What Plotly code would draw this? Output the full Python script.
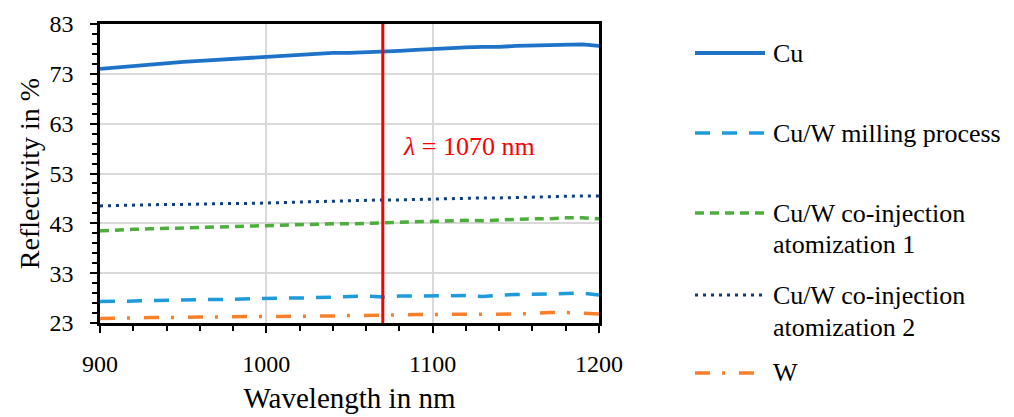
import plotly.graph_objects as go

wavelength = [900, 910, 920, 930, 940, 950, 960, 970, 980, 990, 1000,
              1010, 1020, 1030, 1040, 1050, 1060, 1070, 1080, 1090, 1100,
              1110, 1120, 1130, 1140, 1150, 1160, 1170, 1180, 1190, 1200]

cu = [74.0, 74.3, 74.6, 74.8, 75.1, 75.4, 75.6, 75.8, 76.0, 76.2, 76.4,
      76.6, 76.8, 77.0, 77.2, 77.2, 77.3, 77.4, 77.6, 77.8, 78.0,
      78.1, 78.3, 78.4, 78.4, 78.6, 78.7, 78.8, 78.9, 78.9, 78.6]

cuw_milling = [27.3, 27.3, 27.4, 27.5, 27.6, 27.6, 27.7, 27.7, 27.8, 27.8, 27.9,
               28.0, 28.0, 28.1, 28.1, 28.2, 28.4, 28.2, 28.4, 28.4, 28.4,
               28.5, 28.5, 28.3, 28.6, 28.7, 28.8, 28.9, 29.0, 29.0, 28.6]

cuw_coinj1 = [41.5, 41.7, 41.8, 41.9, 42.0, 42.1, 42.2, 42.3, 42.4, 42.4, 42.5,
              42.6, 42.7, 42.8, 42.9, 42.9, 43.0, 43.2, 43.3, 43.4, 43.5,
              43.5, 43.6, 43.5, 43.7, 43.8, 43.9, 43.9, 44.1, 44.1, 43.9]

cuw_coinj2 = [46.5, 46.6, 46.7, 46.7, 46.8, 46.8, 46.9, 46.9, 47.0, 47.0, 47.1,
              47.2, 47.3, 47.3, 47.4, 47.5, 47.6, 47.7, 47.7, 47.8, 47.9,
              47.9, 48.0, 48.1, 48.1, 48.2, 48.3, 48.4, 48.4, 48.5, 48.5]

w = [23.9, 24.0, 24.0, 24.1, 24.1, 24.2, 24.2, 24.2, 24.3, 24.3, 24.3,
     24.3, 24.3, 24.4, 24.4, 24.5, 24.5, 24.6, 24.6, 24.7, 24.7,
     24.7, 24.7, 24.7, 24.7, 24.8, 24.9, 25.1, 25.1, 25.0, 24.8]

series_names = ["Cu", "Cu/W milling process", "Cu/W co-injection\natomization 1",
                "Cu/W co-injection\natomization 2", "W"]
series_values = [cu, cuw_milling, cuw_coinj1, cuw_coinj2, w]
colors = ["#1E73C8", "#1F9BDC", "#4DAE3C", "#0B3F75", "#F8802B"]
dashes = ["solid", "15px,12px", "9px,6px", "3px,5px", "15px,12px,3px,14px"]
widths = [3.8, 3.5, 3.5, 3.0, 3.5]

laser_wavelength = 1070

x_ticks = [900, 1000, 1100, 1200]
y_ticks = [23, 33, 43, 53, 63, 73, 83]

FONT = "Liberation Serif"

fig = go.Figure()
for name, vals, c, d, lw in zip(series_names, series_values, colors, dashes, widths):
    fig.add_trace(go.Scatter(x=wavelength, y=vals, mode="lines",
                             name=name.replace("\n", " "),
                             line=dict(color=c, width=lw, dash=d),
                             showlegend=False))

# laser line
fig.add_shape(type="line", xref="x", yref="paper", x0=laser_wavelength, x1=laser_wavelength,
              y0=0, y1=1, line=dict(color="#FF0000", width=3), layer="above")
fig.add_annotation(x=1081, y=58.5, xref="x", yref="y", xanchor="left", yanchor="middle",
                   text="<i>λ</i> = 1070 nm", showarrow=False,
                   font=dict(family=FONT, size=26, color="#FF0000"))

# custom legend (paper coords; plot area spans page px 100..599 x 24..323)
W_PX, H_PX = 499.0, 299.0
def px_to_paper(px, py):
    return (px - 100) / W_PX, (323 - py) / H_PX

legend_rows = [53, 133, 213, 295, 373]
for name, c, d, lw, ry in zip(series_names, colors, dashes, widths, legend_rows):
    x0, y0 = px_to_paper(695, ry)
    x1, _ = px_to_paper(765, ry)
    fig.add_shape(type="line", xref="paper", yref="paper", x0=x0, x1=x1, y0=y0, y1=y0,
                  line=dict(color=c, width=lw, dash=d))
    for i, line_text in enumerate(name.split("\n")):
        tx, ty = px_to_paper(771, ry + 32 * i)
        fig.add_annotation(x=tx, y=ty, xref="paper", yref="paper", xanchor="left",
                           yanchor="middle", text=line_text, showarrow=False,
                           font=dict(family=FONT, size=26, color="#000000"))

axis_common = dict(showline=True, linecolor="#000000", linewidth=2.5, mirror=True,
                   ticks="outside", ticklen=7, tickwidth=2, tickcolor="#000000",
                   showgrid=True, gridcolor="#D9D9D9", gridwidth=1.5, zeroline=False,
                   automargin=False,
                   tickfont=dict(family=FONT, size=24, color="#000000"))

fig.update_xaxes(range=[900, 1200], tickvals=x_ticks,
                 minor=dict(dtick=20, tick0=900, ticks="outside", ticklen=5, tickwidth=2,
                            tickcolor="#000000", showgrid=False),
                 title=dict(text="Wavelength in nm", font=dict(family=FONT, size=29, color="#000000"),
                            standoff=13),
                 ticklabelstandoff=10,
                 **axis_common)
fig.update_yaxes(range=[23, 83], tickvals=y_ticks,
                 minor=dict(dtick=2, tick0=23, ticks="outside", ticklen=5, tickwidth=2,
                            tickcolor="#000000", showgrid=False),
                 title=dict(text="Reflectivity in %", font=dict(family=FONT, size=28, color="#000000"),
                            standoff=2),
                 ticklabelstandoff=12,
                 **axis_common)

# page body has an 8px margin: figure is 1006x409 placed at (8, 8)
fig.update_layout(width=1006, height=409, margin=dict(l=92, r=415, t=16, b=94),
                  plot_bgcolor="#FFFFFF", paper_bgcolor="#FFFFFF", showlegend=False)

fig.write_html("out.html")
